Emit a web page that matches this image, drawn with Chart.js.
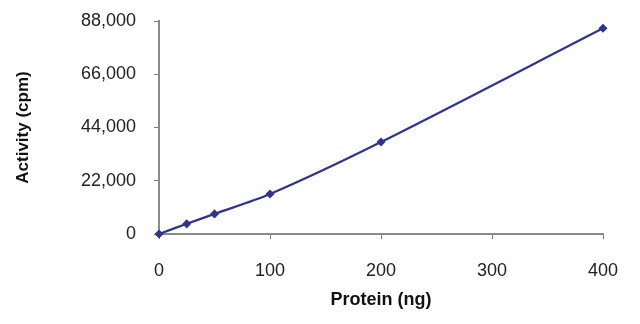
<!DOCTYPE html>
<html>
<head>
<meta charset="utf-8">
<script src="https://cdn.jsdelivr.net/npm/chart.js@4"></script>
<style>
  html, body { margin: 0; padding: 0; background: #fff; }
  #wrap { width: 640px; height: 324px; }
</style>
</head>
<body>
<div id="wrap"><canvas id="myChart" width="640" height="324"></canvas></div>
<script>
// valores
const proteina = [0, 25, 50, 100, 200, 400]
const actividad = [0, 4200, 8300, 16500, 38000, 85000]
const ticksX = [0, 100, 200, 300, 400]
const ticksY = [0, 22000, 44000, 66000, 88000]

const puntos = proteina.map((p, i) => ({ x: p, y: actividad[i] }))

const grafico = document.getElementById("myChart").getContext("2d")
const myChart = new Chart(grafico, {
    type: "scatter",
    data: {
        datasets: [
            {
                data: puntos,
                showLine: true,
                tension: 0.3,
                clip: false,
                borderColor: "#2e3490",
                backgroundColor: "#2e3490",
                borderWidth: 2.2,
                pointStyle: "rectRot",
                pointRadius: 3,
            },
        ],
    },
    options: {
        responsive: false,
        animation: false,
        layout: { padding: { top: 21, right: 37, left: 0, bottom: 0 } },
        plugins: {
            legend: { display: false },
            tooltip: { enabled: false },
        },
        scales: {
            x: {
                type: "linear",
                min: 0,
                max: 400,
                afterBuildTicks: scale => { scale.ticks = ticksX.map(v => ({ value: v })) },
                afterFit: scale => {
                    scale.height = 90
                    scale.paddingLeft = 0
                    scale.paddingRight = 0
                },
                grid: { drawOnChartArea: false, tickLength: 5, color: "#8a8a8a", tickColor: "#777" },
                border: { color: "#8a8a8a", width: 2 },
                ticks: { padding: 21, color: "#222", font: { family: "Liberation Sans", size: 18 } },
                title: {
                    display: true,
                    text: "Protein (ng)",
                    color: "#111",
                    font: { family: "Liberation Sans", size: 18, weight: "bold" },
                    padding: { top: 4, bottom: 13 },
                },
            },
            y: {
                min: 0,
                max: 88000,
                afterBuildTicks: scale => { scale.ticks = ticksY.map(v => ({ value: v })) },
                afterFit: scale => {
                    scale.width = 159
                    scale.paddingTop = 0
                    scale.paddingBottom = 0
                },
                grid: { drawOnChartArea: false, tickLength: 5, color: "#8a8a8a", tickColor: "#777" },
                border: { color: "#8a8a8a", width: 2 },
                ticks: {
                    padding: 18,
                    color: "#222",
                    font: { family: "Liberation Sans", size: 18 },
                    callback: v => v.toLocaleString("en-US"),
                },
                title: {
                    display: true,
                    text: "Activity (cpm)",
                    color: "#111",
                    font: { family: "Liberation Sans", size: 17, weight: "bold" },
                    padding: { top: 13, bottom: 4 },
                },
            },
        },
    },
})
</script>
</body>
</html>
